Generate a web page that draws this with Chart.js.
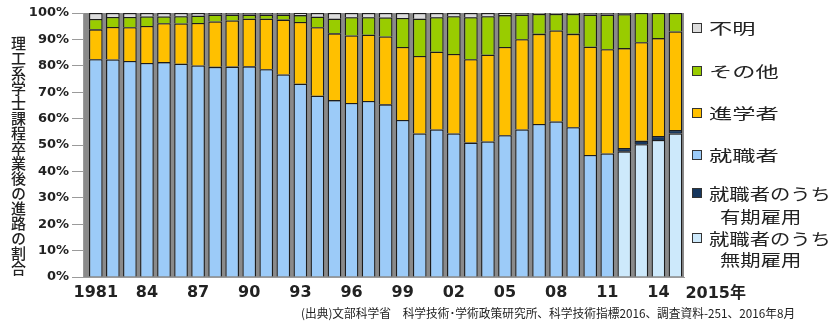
<!DOCTYPE html>
<html lang="ja">
<head>
<meta charset="utf-8">
<script src="https://cdn.jsdelivr.net/npm/chart.js@4.4.1/dist/chart.umd.min.js"></script>
<style>
  html, body { margin: 0; padding: 0; background: #fff; }
  #wrap { position: relative; width: 833px; height: 324px; overflow: hidden; }
  #c { position: absolute; left: 0; top: 0; }
  .ytitle {
    position: absolute; left: 11px; top: 36px; width: 15px;
    writing-mode: vertical-rl; text-orientation: upright;
    font: 500 15px/15px "Noto Sans CJK JP"; color: #222; letter-spacing: 0;
  }
  .lg { position: absolute; left: 0; top: 0; font-family: "Noto Sans CJK JP"; color: #222; }
  .sw { position: absolute; width: 8px; height: 8px; border: 1px solid #333; }
  .tx { position: absolute; white-space: nowrap; transform-origin: 0 50%; line-height: 20px; }
  .note {
    position: absolute; left: 301px; top: 305px; white-space: nowrap;
    font: 12px/16px "Noto Sans CJK JP"; color: #222; transform-origin: 0 50%;
  }
</style>
</head>
<body>
<div id="wrap">
  <canvas id="c" width="833" height="324"></canvas>
  <div class="ytitle">理工系学士課程卒業後の進路の割合</div>
  <div id="legend"></div>
  <div class="note" id="note">(出典)文部科学省　科学技術･学術政策研究所、科学技術指標2016、調査資料-251、2016年8月</div>
</div>
<script>
// Graduation year of each bar
const years = [1981, 1982, 1983, 1984, 1985, 1986, 1987, 1988, 1989, 1990,
               1991, 1992, 1993, 1994, 1995, 1996, 1997, 1998, 1999, 2000,
               2001, 2002, 2003, 2004, 2005, 2006, 2007, 2008, 2009, 2010,
               2011, 2012, 2013, 2014, 2015];

// Shares (%) of graduates by destination
const employed = [82.5, 82.4, 81.8, 81.1, 81.4, 80.8, 80.1, 79.6, 79.7, 79.8,
                  78.7, 76.7, 73.2, 68.7, 67.0, 65.9, 66.7, 65.4, 59.5, 54.4,
                  55.9, 54.4, 50.9, 51.3, 53.7, 55.9, 58.0, 58.9, 56.7, 46.2,
                  46.8, null, null, null, null];
const employedPermanent = [null, null, null, null, null, null, null, null, null, null,
                           null, null, null, null, null, null, null, null, null, null,
                           null, null, null, null, null, null, null, null, null, null,
                           null, 47.6, 50.3, 51.9, 54.4];
const employedFixedTerm = [null, null, null, null, null, null, null, null, null, null,
                           null, null, null, null, null, null, null, null, null, null,
                           null, null, null, null, null, null, null, null, null, null,
                           null, 1.3, 1.3, 1.5, 1.3];
const furtherStudy = [11.3, 12.3, 12.8, 14.0, 14.7, 15.2, 16.1, 17.2, 17.5, 18.0,
                      19.1, 20.8, 23.4, 25.9, 25.3, 25.6, 25.1, 25.7, 27.6, 29.3,
                      29.4, 30.1, 31.6, 32.9, 33.4, 34.2, 34.1, 34.5, 35.4, 41.0,
                      39.5, 37.8, 37.3, 37.1, 37.3];
const other = [3.9, 3.8, 3.9, 3.6, 2.6, 2.8, 2.8, 2.6, 2.2, 1.6,
               1.6, 1.9, 2.6, 4.0, 5.5, 6.9, 6.6, 7.2, 11.0, 14.1,
               13.1, 14.3, 15.9, 14.6, 12.1, 9.3, 7.5, 6.2, 7.5, 12.2,
               13.1, 12.8, 11.1, 9.5, 7.0];
const unknown = [2.3, 1.5, 1.5, 1.3, 1.3, 1.2, 1.0, 0.6, 0.6, 0.6,
                 0.6, 0.6, 0.8, 1.4, 2.2, 1.6, 1.6, 1.7, 1.9, 2.2,
                 1.6, 1.2, 1.6, 1.2, 0.8, 0.6, 0.4, 0.4, 0.4, 0.6,
                 0.6, 0.5, null, null, null];

// Axis labels
const tickYears = [1981, 1984, 1987, 1990, 1993, 1996, 1999, 2002, 2005, 2008, 2011, 2014];
const tickText  = ['1981', '84', '87', '90', '93', '96', '99', '02', '05', '08', '11', '14'];
const endYear = 2015;
const endLabel = '2015年';

// Series names
const names = {
  unknown: '不明',
  other: 'その他',
  furtherStudy: '進学者',
  employed: '就職者',
  fixedTerm: ['就職者のうち', '有期雇用'],
  permanent: ['就職者のうち', '無期雇用']
};

const colors = {
  employed: '#9ccbf8',
  permanent: '#cde9fb',
  fixedTerm: '#17375e',
  furtherStudy: '#ffc000',
  other: '#99cc00',
  unknown: '#dcdcdc'
};

const pts = arr => years.map((yr, i) => ({ x: yr, y: arr[i] }));
const barStyle = c => ({
  backgroundColor: c, borderColor: '#1c1c1c', borderWidth: 1.3, borderSkipped: 'start',
  categoryPercentage: 1.0, barPercentage: 0.8
});

// Grey backdrop that shows through the gaps between the columns
const gapFill = {
  id: 'gapFill',
  beforeDatasetsDraw(chart) {
    const { ctx, chartArea: a, scales: { y } } = chart;
    const top = y.getPixelForValue(100), bot = y.getPixelForValue(0);
    ctx.save();
    ctx.fillStyle = '#8a8a8a';
    ctx.fillRect(a.left + 1, top, a.right - a.left - 1, bot - top);
    ctx.restore();
  }
};

// Final year label, set to the right of the last column
const endTick = {
  id: 'endTick',
  afterDraw(chart) {
    const { ctx, scales: { x } } = chart;
    ctx.save();
    ctx.font = 'bold 16px "DejaVu Sans", "Noto Sans CJK JP"';
    ctx.fillStyle = '#222';
    ctx.textAlign = 'left';
    ctx.textBaseline = 'middle';
    ctx.fillText(endLabel, x.getPixelForValue(endYear) + 10, x.top + 17);
    ctx.restore();
  }
};

new Chart(document.getElementById('c'), {
  type: 'bar',
  data: {
    datasets: [
      { label: names.employed, data: pts(employed), ...barStyle(colors.employed) },
      { label: names.permanent.join(''), data: pts(employedPermanent), ...barStyle(colors.permanent) },
      { label: names.fixedTerm.join(''), data: pts(employedFixedTerm), ...barStyle(colors.fixedTerm) },
      { label: names.furtherStudy, data: pts(furtherStudy), ...barStyle(colors.furtherStudy) },
      { label: names.other, data: pts(other), ...barStyle(colors.other) },
      { label: names.unknown, data: pts(unknown), ...barStyle(colors.unknown) }
    ]
  },
  options: {
    responsive: false,
    animation: false,
    layout: { padding: { top: 13, right: 149, left: 0, bottom: 0 } },
    plugins: { legend: { display: false }, tooltip: { enabled: false } },
    scales: {
      x: {
        type: 'linear', stacked: true, min: 1980.25, max: 2015.5, offset: false,
        grid: { display: false },
        border: { display: true, color: '#9a9a9a', width: 1 },
        afterBuildTicks: s => { s.ticks = tickYears.map(v => ({ value: v })); },
        afterFit: s => { s.height = 47; },
        ticks: {
          autoSkip: false, maxRotation: 0, padding: -2, color: '#222',
          font: { family: '"DejaVu Sans"', size: 16, weight: 'bold' },
          callback: v => tickText[tickYears.indexOf(v)]
        }
      },
      y: {
        stacked: true, min: 0, max: 100,
        afterFit: s => { s.width = 83; },
        grid: { drawOnChartArea: false, drawTicks: true, tickLength: 11, color: '#9a9a9a' },
        border: { display: true, color: '#9a9a9a', width: 1 },
        ticks: {
          stepSize: 10, padding: 3, color: '#222',
          font: { family: '"DejaVu Sans"', size: 13, weight: 'bold' },
          callback: v => v + '%'
        }
      }
    }
  },
  plugins: [gapFill, endTick]
});

// Legend at the right-hand side
const legendItems = [
  { color: colors.unknown,      lines: [names.unknown],      y: 28,  fs: 15, sx: 1.55 },
  { color: colors.other,        lines: [names.other],        y: 71,  fs: 15, sx: 1.55 },
  { color: colors.furtherStudy, lines: [names.furtherStudy], y: 113, fs: 15, sx: 1.55 },
  { color: colors.employed,     lines: [names.employed],     y: 155, fs: 15, sx: 1.55 },
  { color: colors.fixedTerm,    lines: names.fixedTerm,      y: 193, fs: 16, sx: 1.27, gap: 23 },
  { color: colors.permanent,    lines: names.permanent,      y: 238, fs: 16, sx: 1.27, gap: 21 }
];
const lg = document.getElementById('legend');
lg.className = 'lg';
legendItems.forEach(it => {
  const sw = document.createElement('div');
  sw.className = 'sw';
  sw.style.left = '692px';
  sw.style.top = (it.y - 5) + 'px';
  sw.style.background = it.color;
  lg.appendChild(sw);
  it.lines.forEach((t, k) => {
    const tx = document.createElement('div');
    tx.className = 'tx';
    tx.textContent = t;
    tx.style.fontSize = it.fs + 'px';
    tx.style.left = (k === 0 ? 709 : 720) + 'px';
    tx.style.top = (it.y + k * (it.gap || 0) - 10) + 'px';
    tx.style.transform = 'scaleX(' + it.sx + ')';
    lg.appendChild(tx);
  });
});

// Source line spans from x=301 to about x=795
const note = document.getElementById('note');
note.style.transform = 'scaleX(' + (494 / note.scrollWidth) + ')';
</script>
</body>
</html>
